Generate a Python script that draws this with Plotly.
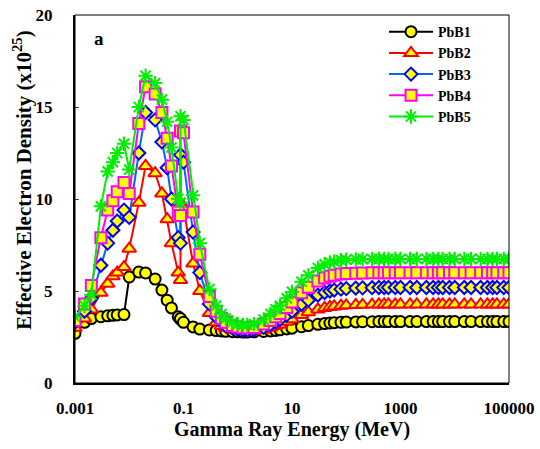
import plotly.graph_objects as go

energy = [0.001, 0.0015, 0.002, 0.003, 0.004, 0.005, 0.006, 0.008, 0.01,
          0.015, 0.02, 0.03, 0.04, 0.05, 0.06, 0.08, 0.088, 0.088, 0.1,
          0.15, 0.2, 0.3, 0.4, 0.5, 0.6, 0.8, 1,
          1.25, 1.5, 2, 3, 4, 5, 6, 8, 10,
          15, 20, 30, 40, 50, 60, 80, 100,
          150, 200, 300, 400, 500, 600, 800, 1000,
          1500, 2000, 3000, 4000, 5000, 6000, 8000, 10000,
          15000, 20000, 30000, 40000, 50000, 60000, 80000, 100000]

pbb1 = [2.7, 3.3, 3.5, 3.6, 3.65, 3.68, 3.7, 3.72, 5.76,
        6.03, 5.98, 5.65, 5.05, 4.5, 4.08, 3.6, 3.45, 3.5, 3.3,
        3.05, 2.93, 2.88, 2.85, 2.83, 2.81, 2.79, 2.78,
        2.77, 2.77, 2.78, 2.8, 2.83, 2.86, 2.89, 2.94, 2.98,
        3.06, 3.12, 3.19, 3.23, 3.26, 3.28, 3.3, 3.31,
        3.32, 3.33, 3.33, 3.34, 3.34, 3.34, 3.34, 3.34,
        3.34, 3.34, 3.34, 3.34, 3.34, 3.34, 3.34, 3.34,
        3.34, 3.34, 3.34, 3.34, 3.34, 3.34, 3.34, 3.34]

pbb2 = [3.0, 3.5, 4.0, 4.9, 5.4, 5.8, 6.0, 6.3, 7.3,
        9.8, 11.8, 11.4, 10.3, 8.9, 7.6, 6.0, 5.6, 9.8, 9.5,
        6.5, 5.0, 3.8, 3.3, 3.1, 3.0, 2.9, 2.85,
        2.82, 2.8, 2.82, 2.9, 3.0, 3.1, 3.18, 3.33, 3.46,
        3.7, 3.85, 4.0, 4.08, 4.13, 4.16, 4.2, 4.22,
        4.24, 4.25, 4.26, 4.27, 4.27, 4.27, 4.27, 4.27,
        4.27, 4.27, 4.27, 4.27, 4.27, 4.27, 4.27, 4.27,
        4.27, 4.27, 4.27, 4.27, 4.27, 4.27, 4.27, 4.27]

pbb3 = [3.3, 3.9, 4.6, 6.4, 7.6, 8.3, 8.8, 9.4, 9.0,
        12.5, 14.7, 14.3, 13.1, 11.7, 10.0, 7.9, 7.6, 12.4, 12.0,
        8.2, 6.0, 4.3, 3.6, 3.3, 3.1, 3.0, 2.92,
        2.88, 2.87, 2.9, 3.02, 3.18, 3.33, 3.46, 3.7, 3.9,
        4.28, 4.5, 4.78, 4.92, 5.0, 5.05, 5.1, 5.13,
        5.16, 5.17, 5.18, 5.19, 5.19, 5.19, 5.19, 5.19,
        5.19, 5.19, 5.19, 5.19, 5.19, 5.19, 5.19, 5.19,
        5.19, 5.19, 5.19, 5.19, 5.19, 5.19, 5.19, 5.19]

pbb4 = [3.4, 4.3, 5.3, 7.9, 9.4, 9.9, 10.4, 10.9, 10.3,
        14.1, 16.1, 15.7, 14.7, 13.3, 11.8, 9.3, 9.1, 13.7, 13.6,
        9.3, 7.0, 4.7, 3.9, 3.5, 3.3, 3.12, 3.05,
        3.0, 3.0, 3.02, 3.2, 3.4, 3.6, 3.78, 4.1, 4.4,
        4.9, 5.2, 5.55, 5.7, 5.8, 5.85, 5.92, 5.95,
        5.97, 5.98, 5.99, 5.99, 5.99, 5.99, 5.99, 5.99,
        5.99, 5.99, 5.99, 5.99, 5.99, 5.99, 5.99, 5.99,
        5.99, 5.99, 5.99, 5.99, 5.99, 5.99, 5.99, 5.99]

pbb5 = [3.6, 4.2, 4.8, 9.6, 11.5, 12.0, 12.5, 13.0, 11.6,
        15.0, 16.7, 16.3, 15.4, 14.2, 12.8, 10.0, 9.8, 14.5, 14.3,
        10.2, 7.6, 5.1, 4.2, 3.75, 3.5, 3.3, 3.2,
        3.15, 3.15, 3.2, 3.45, 3.75, 4.0, 4.2, 4.6, 4.95,
        5.5, 5.85, 6.25, 6.45, 6.55, 6.6, 6.67, 6.7,
        6.72, 6.73, 6.74, 6.74, 6.74, 6.74, 6.74, 6.74,
        6.74, 6.74, 6.74, 6.74, 6.74, 6.74, 6.74, 6.74,
        6.74, 6.74, 6.74, 6.74, 6.74, 6.74, 6.74, 6.74]

series_names = ["PbB1", "PbB2", "PbB3", "PbB4", "PbB5"]
x_tick_vals = [0.001, 0.1, 10, 1000, 100000]
x_tick_text = ["0.001", "0.1", "10", "1000", "100000"]
y_tick_vals = [0, 5, 10, 15, 20]
x_title = "Gamma Ray Energy (MeV)"
y_title = "Effective Electron Density (x10<sup>25</sup>)"

styles = [
    dict(line="#000000", sym="circle", mline="#000000", fill="#FFFF00", size=11),
    dict(line="#FF0000", sym="triangle-up", mline="#FF0000", fill="#FFFF00", size=12),
    dict(line="#0066FF", sym="diamond", mline="#0000FF", fill="#FFFF00", size=10),
    dict(line="#FF00FF", sym="square", mline="#FF00FF", fill="#FFFF00", size=11),
    dict(line="#00EE00", sym="asterisk-open", mline="#00EE00", fill="#00EE00", size=12),
]

FF = "Liberation Serif, Times New Roman, serif"

fig = go.Figure()
for name, ys, st in zip(series_names, [pbb1, pbb2, pbb3, pbb4, pbb5], styles):
    fig.add_trace(go.Scatter(
        x=energy, y=ys, name=name, mode="lines+markers",
        line=dict(color=st["line"], width=2),
        marker=dict(symbol=st["sym"], size=st["size"], color=st["fill"],
                    line=dict(color=st["mline"], width=2)),
    ))

fig.update_layout(
    width=540, height=449,
    margin=dict(l=75, r=31, t=15, b=66, autoexpand=False),
    paper_bgcolor="white", plot_bgcolor="white",
    font=dict(family=FF, size=15, color="black", weight="bold"),
    showlegend=True,
    legend=dict(x=0.712, y=0.997, xanchor="left", yanchor="top",
                bgcolor="rgba(255,255,255,0)",
                font=dict(size=14, family=FF, weight="bold"),
                tracegroupgap=0, itemwidth=44),
    xaxis=dict(type="log", range=[-3, 5], tickvals=x_tick_vals, ticktext=x_tick_text,
               automargin=False, showgrid=False, zeroline=False, showline=True,
               linecolor="black", linewidth=2, ticks="", ticklabelstandoff=9,
               ticklabeloverflow="allow",
               tickfont=dict(size=17, family=FF, weight="bold")),
    yaxis=dict(range=[0, 20], tickvals=y_tick_vals, automargin=False, showgrid=False,
               zeroline=False, showline=True, linecolor="black", linewidth=2,
               ticks="inside", ticklen=4, tickwidth=1, ticklabelstandoff=17,
               ticklabeloverflow="allow",
               tickfont=dict(size=17, family=FF, weight="bold")),
)

fig.add_shape(type="rect", xref="paper", yref="paper", x0=0, y0=0, x1=1, y1=1,
              line=dict(color="black", width=1), layer="above")
fig.add_annotation(text="a", xref="paper", yref="paper", x=0.04, y=0.935,
                   xanchor="left", yanchor="middle", showarrow=False,
                   font=dict(size=19, family=FF, weight="bold"))
fig.add_annotation(text=x_title, xref="paper", yref="paper", x=0.5, y=-0.127,
                   xanchor="center", yanchor="middle", showarrow=False,
                   font=dict(size=20, family=FF, weight="bold"))
fig.add_annotation(text=y_title, xref="paper", yref="paper", x=-0.12, y=0.552,
                   xanchor="center", yanchor="middle", showarrow=False, textangle=-90,
                   font=dict(size=21, family=FF, weight="bold"))

# remove the page's default body margin so the 540x449 figure fills the window
fig.write_html("out.html", config={"displayModeBar": False},
               post_script="document.body.style.margin='0px';document.body.style.overflow='hidden';")
